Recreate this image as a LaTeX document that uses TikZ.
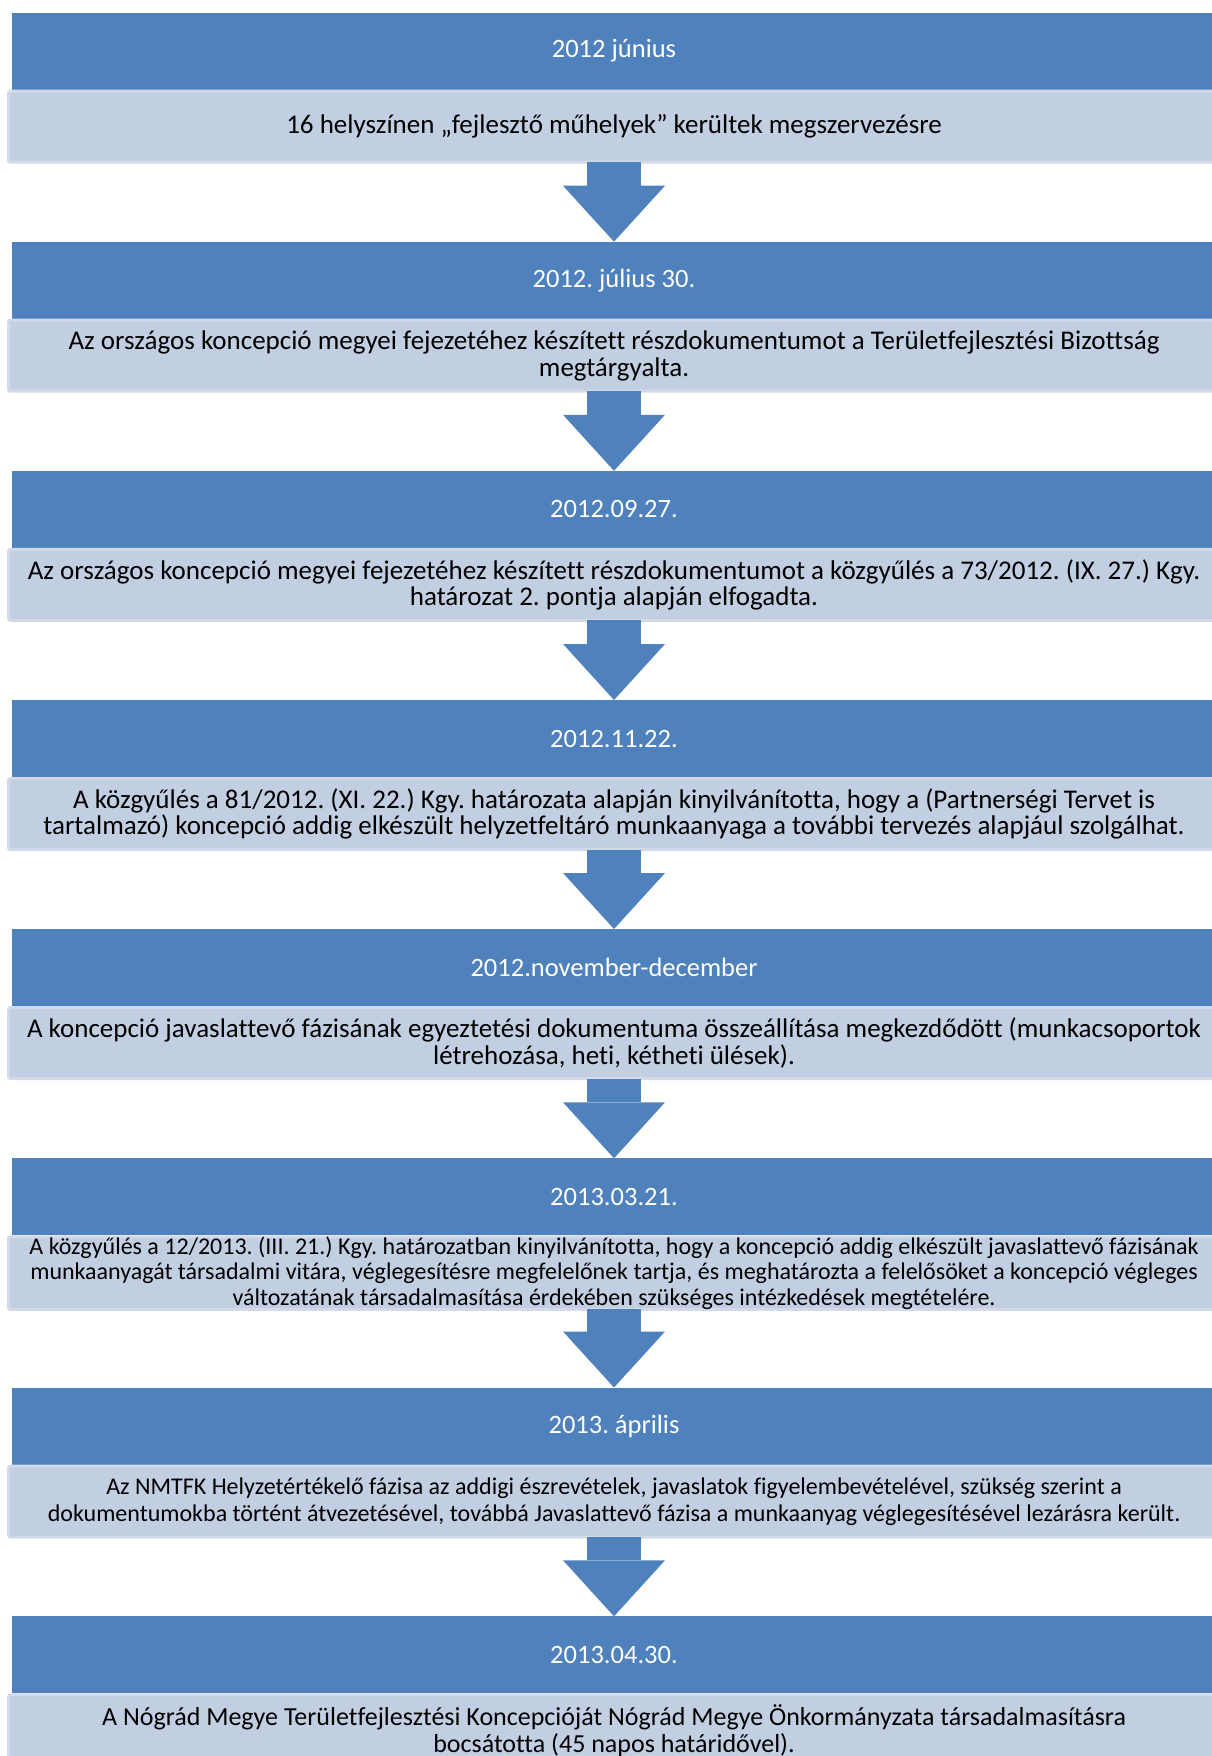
\documentclass[tikz,border=0pt]{standalone}
\usepackage{fontspec}
\setmainfont{Carlito}[Ligatures=NoCommon]
\usepackage{tikz}
\usetikzlibrary{positioning,arrows.meta}

\definecolor{hdrblue}{RGB}{79,129,189}
\definecolor{bodyfill}{RGB}{194,206,226}
\definecolor{bodyedge}{RGB}{210,218,233}
\frenchspacing

\begin{document}
\begin{tikzpicture}[x=1pt, y=-1pt,
    datebox/.style={rectangle, fill=hdrblue, text=white, anchor=north, minimum width=1204pt, minimum height=77pt, inner sep=0pt, outer sep=0pt, font=\fontsize{26.5}{30}\selectfont},
    bodybox/.style={rectangle, draw=bodyedge, line width=3pt, fill=bodyfill, rounded corners=2pt, minimum width=1211pt, minimum height=71pt, inner sep=0pt, outer sep=0pt, align=center, font=\fontsize{27}{26.7}\selectfont},
    flow/.style={hdrblue, line width=54pt, -{Triangle[width=102pt, length=56pt, line width=0pt]}}]
    \useasboundingbox (0,0) rectangle (1211,1756);

    \node[datebox] (d1) at (614,12.6) {2012 június};
    \node[bodybox, below=1.5pt of d1] (b1) {16 helyszínen „fejlesztő műhelyek” kerültek megszervezésre};

    \node[datebox] (d2) at (614,241.7) {2012. július 30.};
    \node[bodybox, below=1.5pt of d2] (b2) {Az országos koncepció megyei fejezetéhez készített részdokumentumot a Területfejlesztési Bizottság\\megtárgyalta.};

    \node[datebox] (d3) at (614,470.8) {2012.09.27.};
    \node[bodybox, below=1.5pt of d3] (b3) {Az országos koncepció megyei fejezetéhez készített részdokumentumot a közgyűlés a 73/2012. (IX. 27.) Kgy.\\határozat 2. pontja alapján elfogadta.};

    \node[datebox] (d4) at (614,700) {2012.11.22.};
    \node[bodybox, below=1.5pt of d4] (b4) {A közgyűlés a 81/2012. (XI. 22.) Kgy. határozata alapján kinyilvánította, hogy a (Partnerségi Tervet is\\tartalmazó) koncepció addig elkészült helyzetfeltáró munkaanyaga a további tervezés alapjául szolgálhat.};

    \node[datebox] (d5) at (614,929) {2012.november-december};
    \node[bodybox, below=1.5pt of d5] (b5) {A koncepció javaslattevő fázisának egyeztetési dokumentuma összeállítása megkezdődött (munkacsoportok\\létrehozása, heti, kétheti ülések).};

    \node[datebox] (d6) at (614,1158.3) {2013.03.21.};
    \node[bodybox, below=1.5pt of d6, font=\fontsize{24}{25.5}\selectfont] (b6) {A közgyűlés a 12/2013. (III. 21.) Kgy. határozatban kinyilvánította, hogy a koncepció addig elkészült javaslattevő fázisának\\munkaanyagát társadalmi vitára, véglegesítésre megfelelőnek tartja, és meghatározta a felelősöket a koncepció végleges\\változatának társadalmasítása érdekében szükséges intézkedések megtételére.};

    \node[datebox] (d7) at (614,1387.5) {2013. április};
    \node[bodybox, below=1.5pt of d7, font=\fontsize{24}{26.7}\selectfont] (b7) {Az NMTFK Helyzetértékelő fázisa az addigi észrevételek, javaslatok figyelembevételével, szükség szerint a\\dokumentumokba történt átvezetésével, továbbá Javaslattevő fázisa a munkaanyag véglegesítésével lezárásra került.};

    \node[datebox] (d8) at (614,1616.3) {2013.04.30.};
    \node[bodybox, below=1.5pt of d8, font=\fontsize{26}{26.7}\selectfont] (b8) {A Nógrád Megye Területfejlesztési Koncepcióját Nógrád Megye Önkormányzata társadalmasításra\\bocsátotta (45 napos határidővel).};

    \draw[flow] (b1) -- (d2);
    \draw[flow] (b2) -- (d3);
    \draw[flow] (b3) -- (d4);
    \draw[flow] (b4) -- (d5);
    \draw[flow] (b5) -- (d6);
    \draw[flow] (b6) -- (d7);
    \draw[flow] (b7) -- (d8);
\end{tikzpicture}
\end{document}
